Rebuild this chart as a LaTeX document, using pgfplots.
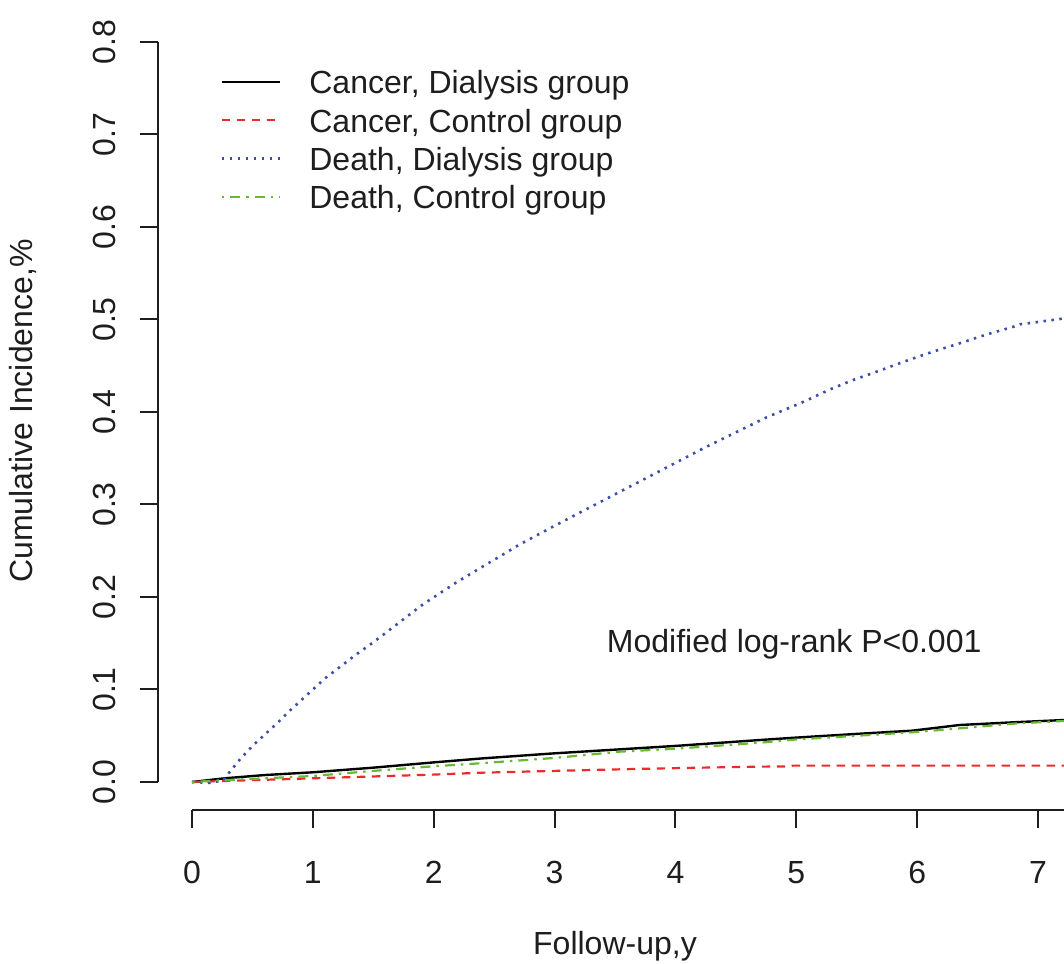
\documentclass[border=0pt]{standalone}
\usepackage{fontspec}
\setmainfont{Liberation Sans}
\usepackage{pgfplots}
\pgfplotsset{compat=1.18}
\definecolor{cred}{RGB}{236,43,43}
\definecolor{cblue}{RGB}{60,78,170}
\definecolor{cgreen}{RGB}{102,187,51}
\definecolor{axc}{RGB}{30,30,30}
\begin{document}
\begin{tikzpicture}[font=\fontsize{16}{19.2}\selectfont]
\begin{axis}[
  at={(79pt,76.5pt)}, anchor=south west,
  scale only axis, width=453pt, height=399pt,
  xmin=-0.2815, xmax=7.2146, ymin=-0.03027, ymax=0.8324,
  clip mode=individual,
  axis line style={draw=none},
  xtick={0,1,2,3,4,5,6,7},
  ytick={0,0.1,0.2,0.3,0.4,0.5,0.6,0.7,0.8},
  xtick pos=bottom, ytick pos=left,
  tick align=outside, major tick length=9pt,
  every tick/.style={axc, line width=1pt},
  tick label style={font=\fontsize{16}{19.2}\selectfont, text=axc},
  /pgf/number format/assume math mode=true,
  y tick label style={/pgf/number format/.cd, fixed, fixed zerofill, precision=1, /tikz/.cd},
  yticklabel style={xshift=-12pt, rotate=90, anchor=base},
  xticklabel style={anchor=base, yshift=-27.5pt},
  xlabel={Follow-up,y},
  ylabel={Cumulative Incidence,\%},
  xlabel style={at={(axis description cs:0.5044,-0.1805)}, anchor=base, text=axc},
  ylabel style={at={(axis description cs:-0.1385,0.5)}, anchor=base, text=axc},
  legend cell align=left,
  legend style={draw=none, fill=none, at={(axis description cs:0.0684,0.928)}, anchor=north west,
    inner sep=0pt, row sep=3.67pt, column sep=14.2pt,
    nodes={inner sep=0pt, text height=12pt, text depth=3.5pt, text=axc}},
  legend image code/.code={\draw[#1] (0pt,1.75pt) -- (29pt,1.75pt);},
]
\addplot[black, line width=1.2pt] coordinates {
(0,0) (0.27,0.004) (0.6,0.0075) (1.0,0.0105) (1.5,0.0155) (2.0,0.0212) (2.4,0.0255)
(3.0,0.031) (3.54,0.0353) (4.0,0.039) (4.7,0.0454) (5.0,0.048) (5.5,0.052) (5.96,0.0555)
(6.35,0.0616) (6.79,0.0645) (7.215,0.067)};
\addlegendentry{Cancer, Dialysis group}
\addplot[cred, line width=1.1pt, dash pattern=on 4.2pt off 3.3pt] coordinates {
(0,0) (0.5,0.002) (1.0,0.004) (1.5,0.006) (2.0,0.008) (2.38,0.010) (3.0,0.012) (3.54,0.0137)
(4.0,0.015) (4.7,0.0166) (4.95,0.0168) (4.97,0.0177) (7.215,0.0177)};
\addlegendentry{Cancer, Control group}
\addplot[cblue, line width=1.3pt, dash pattern=on 1.25pt off 2.75pt] coordinates {
(0,0) (0.15,-0.001) (0.26,0.002) (0.30,0.009) (0.35,0.017) (0.40,0.025) (0.50,0.039)
(0.60,0.051) (0.70,0.063) (0.80,0.076) (0.90,0.088) (1.00,0.100) (1.10,0.112) (1.25,0.127)
(1.36,0.138) (1.50,0.151) (1.64,0.165) (1.80,0.181) (1.91,0.192) (2.05,0.204) (2.19,0.216)
(2.33,0.227) (2.47,0.238) (2.60,0.248) (2.70,0.256) (3.00,0.277) (3.25,0.294) (3.50,0.311)
(3.75,0.328) (4.00,0.345) (4.25,0.362) (4.50,0.378) (4.75,0.394) (5.06,0.411) (5.28,0.4245)
(5.47,0.4346) (5.69,0.4447) (5.89,0.4544) (6.13,0.4652) (6.35,0.4742) (6.58,0.484)
(6.80,0.4923) (6.85,0.4948) (6.96,0.4966) (7.18,0.5005) (7.215,0.501)};
\addlegendentry{Death, Dialysis group}
\addplot[cgreen, line width=1.1pt, dash pattern=on 1.25pt off 3pt on 5pt off 3pt] coordinates {
(0,0) (0.27,0.002) (0.6,0.004) (1.0,0.0065) (1.5,0.012) (2.0,0.017) (2.38,0.0202) (3.0,0.026)
(3.54,0.0328) (4.0,0.036) (4.7,0.0425) (5.0,0.046) (5.5,0.050) (5.96,0.0537) (6.35,0.058)
(6.79,0.063) (7.215,0.066)};
\addlegendentry{Death, Control group}
\draw[axc, line width=1pt] (axis cs:-0.2815,0) -- (axis cs:-0.2815,0.8);
\draw[axc, line width=1pt] (axis cs:0,-0.03027) -- (axis cs:7.2146,-0.03027);
\node[anchor=base west, text=axc, inner sep=0pt] at (axis cs:3.43,0.1405) {Modified log-rank P<0.001};
\end{axis}
\pgfresetboundingbox
\useasboundingbox (0,0) rectangle (532pt,481.5pt);
\end{tikzpicture}
\end{document}
